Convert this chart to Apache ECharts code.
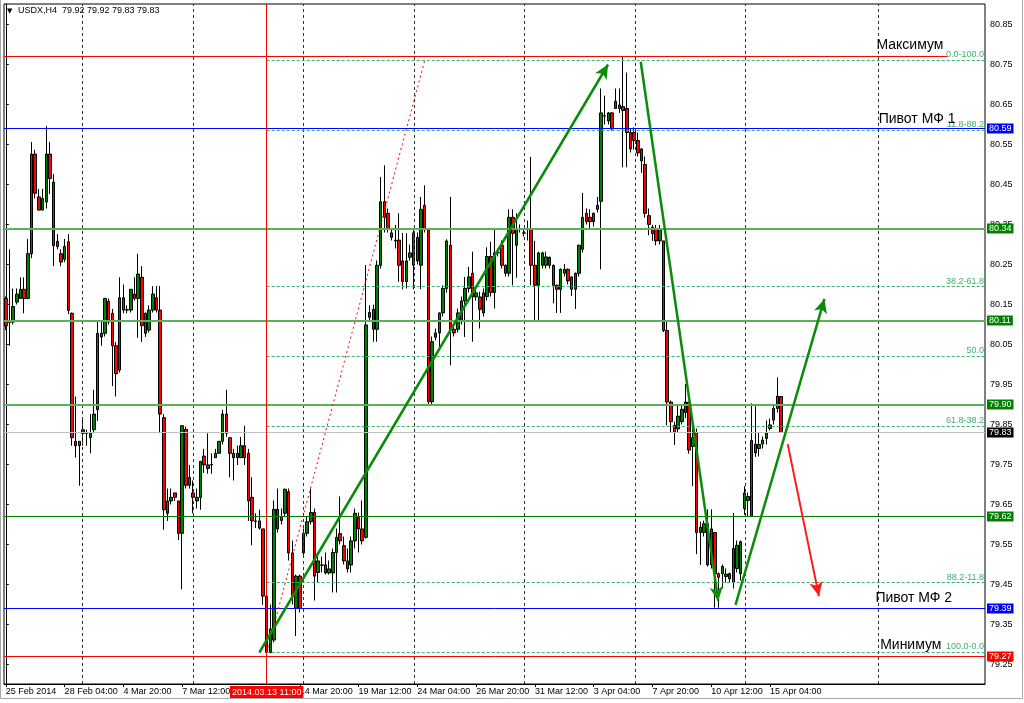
<!DOCTYPE html>
<html><head><meta charset="utf-8">
<script src="https://cdn.jsdelivr.net/npm/echarts@6/dist/echarts.min.js"></script>
<style>html,body{margin:0;padding:0;background:#fff}#c{width:1024px;height:703px}</style>
</head><body><div id="c"></div>
<script>
// ---- data: H4 candles [open, close, low, high]
const candles = [
[80.165,80.097,80.086,80.170],[80.105,80.110,80.047,80.288],[80.106,80.145,80.100,80.190],[80.156,80.176,80.150,80.190],
[80.165,80.188,80.165,80.218],[80.188,80.165,80.128,80.218],[80.165,80.277,80.165,80.314],[80.277,80.526,80.266,80.556],
[80.526,80.428,80.415,80.537],[80.419,80.386,80.386,80.439],[80.386,80.415,80.386,80.439],[80.406,80.526,80.390,80.596],
[80.526,80.465,80.426,80.556],[80.456,80.297,80.246,80.476],[80.308,80.295,80.288,80.326],[80.277,80.256,80.246,80.288],
[80.263,80.295,80.256,80.314],[80.307,80.135,80.126,80.326],[80.128,79.817,79.797,80.130],[79.808,79.797,79.767,79.920],
[79.808,79.797,79.697,79.808],[79.837,79.828,79.797,79.867],[79.828,79.829,79.797,79.837],[79.817,79.828,79.778,79.876],
[79.837,79.876,79.828,79.937],[79.887,80.078,79.859,80.108],[80.078,80.069,80.047,80.108],[80.078,80.165,80.070,80.167],
[80.158,80.106,80.100,80.165],[80.128,80.047,79.946,80.139],[80.047,79.977,79.920,80.056],[79.986,80.167,79.980,80.218],
[80.167,80.136,80.128,80.200],[80.136,80.137,80.128,80.148],[80.136,80.188,80.130,80.188],[80.176,80.165,80.160,80.218],
[80.165,80.226,80.067,80.277],[80.218,80.097,80.056,80.246],[80.128,80.078,80.069,80.130],[80.086,80.136,80.080,80.148],
[80.136,80.176,80.130,80.196],[80.167,80.136,80.130,80.196],[80.136,79.876,79.828,80.196],[79.867,79.637,79.587,79.876],
[79.628,79.659,79.609,79.690],[79.659,79.668,79.650,79.690],[79.679,79.668,79.659,79.679],[79.659,79.578,79.561,79.659],
[79.578,79.847,79.438,79.847],[79.838,79.698,79.690,79.845],[79.698,79.718,79.690,79.749],[79.679,79.668,79.628,79.710],
[79.659,79.668,79.640,79.690],[79.668,79.758,79.637,79.758],[79.771,79.749,79.729,79.789],[79.740,79.749,79.727,79.828],
[79.749,79.750,79.727,79.778],[79.767,79.778,79.767,79.789],[79.778,79.808,79.778,79.808],[79.808,79.876,79.800,79.887],
[79.876,79.828,79.819,79.937],[79.817,79.778,79.718,79.817],[79.778,79.767,79.710,79.789],[79.778,79.767,79.749,79.797],
[79.767,79.797,79.767,79.819],[79.797,79.767,79.749,79.847],[79.778,79.659,79.609,79.789],[79.668,79.609,79.548,79.718],
[79.609,79.608,79.591,79.628],[79.609,79.591,79.587,79.637],[79.589,79.421,79.399,79.589],[79.421,79.280,79.272,79.440],
[79.280,79.339,79.278,79.400],[79.311,79.638,79.305,79.660],[79.638,79.589,79.580,79.690],[79.610,79.620,79.600,79.640],
[79.628,79.688,79.620,79.690],[79.682,79.529,79.510,79.690],[79.529,79.423,79.400,79.560],[79.390,79.471,79.321,79.475],
[79.471,79.390,79.380,79.475],[79.529,79.578,79.520,79.590],[79.578,79.607,79.570,79.620],[79.607,79.630,79.600,79.690],
[79.630,79.471,79.410,79.640],[79.480,79.509,79.455,79.530],[79.499,79.498,79.480,79.520],[79.499,79.479,79.475,79.530],
[79.479,79.489,79.475,79.510],[79.479,79.530,79.430,79.540],[79.530,79.568,79.430,79.590],[79.577,79.559,79.550,79.670],
[79.547,79.509,79.500,79.570],[79.509,79.489,79.480,79.540],[79.499,79.559,79.480,79.570],[79.559,79.628,79.540,79.640],
[79.618,79.589,79.530,79.630],[79.589,79.559,79.550,79.660],[79.568,80.099,79.565,80.249],[80.118,80.130,80.110,80.148],
[80.138,80.088,80.057,80.150],[80.088,80.248,80.057,80.260],[80.248,80.407,80.240,80.469],[80.407,80.368,80.330,80.498],
[80.378,80.338,80.330,80.390],[80.329,80.318,80.310,80.340],[80.311,80.309,80.290,80.349],[80.311,80.248,80.207,80.378],
[80.259,80.207,80.188,80.329],[80.207,80.259,80.190,80.328],[80.268,80.279,80.260,80.300],[80.248,80.329,80.188,80.338],
[80.318,80.259,80.250,80.330],[80.248,80.388,80.188,80.419],[80.398,80.338,80.330,80.448],[80.338,79.907,79.899,80.340],
[79.907,80.057,79.900,80.070],[80.068,80.079,80.060,80.090],[80.079,80.129,80.040,80.130],[80.129,80.190,80.120,80.198],
[80.190,80.309,80.180,80.313],[80.298,80.088,79.998,80.419],[80.088,80.079,80.070,80.100],[80.088,80.129,80.080,80.140],
[80.107,80.159,80.100,80.170],[80.159,80.190,80.069,80.219],[80.190,80.219,80.180,80.244],[80.228,80.169,80.057,80.282],
[80.169,80.179,80.160,80.190],[80.169,80.138,80.090,80.182],[80.129,80.179,80.120,80.190],[80.170,80.270,80.160,80.293],
[80.270,80.180,80.170,80.307],[80.180,80.279,80.140,80.340],[80.279,80.280,80.270,80.290],[80.298,80.248,80.240,80.310],
[80.248,80.228,80.220,80.250],[80.228,80.368,80.220,80.388],[80.368,80.328,80.198,80.388],[80.298,80.338,80.217,80.378],
[80.338,80.339,80.330,80.350],[80.328,80.329,80.320,80.340],[80.340,80.338,80.310,80.360],[80.338,80.248,80.198,80.519],
[80.248,80.198,80.110,80.309],[80.198,80.279,80.107,80.282],[80.248,80.279,80.240,80.282],[80.248,80.269,80.240,80.282],
[80.268,80.248,80.240,80.270],[80.248,80.198,80.153,80.250],[80.198,80.188,80.129,80.200],[80.188,80.238,80.129,80.240],
[80.228,80.238,80.220,80.251],[80.238,80.209,80.200,80.240],[80.219,80.188,80.171,80.220],[80.188,80.228,80.139,80.230],
[80.228,80.298,80.220,80.300],[80.288,80.368,80.280,80.429],[80.378,80.357,80.350,80.390],[80.368,80.357,80.340,80.388],
[80.357,80.378,80.345,80.380],[80.388,80.398,80.380,80.419],[80.408,80.629,80.238,80.690],[80.622,80.621,80.600,80.672],
[80.609,80.629,80.600,80.631],[80.629,80.589,80.585,80.631],[80.640,80.658,80.640,80.690],[80.649,80.640,80.629,80.690],
[80.635,80.645,80.493,80.770],[80.640,80.580,80.493,80.730],[80.580,80.539,80.530,80.590],[80.580,80.560,80.537,80.593],
[80.560,80.529,80.520,80.580],[80.539,80.509,80.479,80.540],[80.500,80.378,80.367,80.520],[80.372,80.350,80.323,80.390],
[80.343,80.327,80.309,80.349],[80.340,80.309,80.298,80.349],[80.309,80.340,80.300,80.349],[80.309,80.085,80.081,80.309],
[80.085,79.906,79.848,80.110],[79.906,79.857,79.830,79.910],[79.848,79.830,79.799,79.857],[79.839,79.871,79.830,79.898],
[79.857,79.888,79.850,79.900],[79.880,79.906,79.866,79.951],[79.906,79.786,79.777,79.906],[79.795,79.817,79.696,79.848],
[79.830,79.580,79.526,79.840],[79.580,79.593,79.499,79.607],[79.580,79.602,79.570,79.610],[79.602,79.499,79.495,79.638],
[79.589,79.499,79.490,79.638],[79.580,79.477,79.392,79.580],[79.477,79.468,79.392,79.480],[79.477,79.495,79.440,79.500],
[79.470,79.476,79.455,79.490],[79.477,79.464,79.455,79.480],[79.455,79.540,79.440,79.629],[79.490,79.548,79.480,79.560],
[79.477,79.557,79.460,79.560],[79.640,79.679,79.624,79.696],[79.660,79.670,79.620,79.680],[79.620,79.810,79.620,79.903],
[79.801,79.779,79.769,79.900],[79.790,79.800,79.770,79.830],[79.801,79.811,79.790,79.820],[79.815,79.829,79.800,79.860],
[79.840,79.849,79.835,79.865],[79.861,79.890,79.850,79.900],[79.890,79.921,79.880,79.968],[79.920,79.830,79.830,79.920]
];
const SLOTS = 267;                 // bar slots visible on the chart (incl. empty future area)
const LABEL_STEP = 16;             // one time label every 16 bars
const xTickLabels = ['25 Feb 2014','28 Feb 04:00','4 Mar 20:00','7 Mar 12:00','','14 Mar 20:00','19 Mar 12:00',
  '24 Mar 04:00','26 Mar 20:00','31 Mar 12:00','3 Apr 04:00','7 Apr 20:00','10 Apr 12:00','15 Apr 04:00'];
const yTicks = [79.25,79.35,79.45,79.55,79.65,79.75,79.85,79.95,80.05,80.15,80.25,80.35,80.45,80.55,80.65,80.75,80.85];
const yMin = 79.20125, yMax = 80.90125;

// horizontal levels (levelEndBars: bar where a level line stops, null = runs to the right edge)
const levelPrices  = [80.77, 80.59, 80.34, 80.11, 79.90, 79.83, 79.62, 79.39, 79.27];
const levelKinds   = ['ext','pivot','zoneA','zoneA','zoneA','last','zoneB','pivot','ext'];
const levelEndBars = [256.2, null, null, null, null, null, null, null, null];

// fibonacci retracement
const fibHigh = 80.76, fibLow = 79.28;
const fibRatios = [0, 0.118, 0.382, 0.5, 0.618, 0.882, 1];
const fibNames  = ['0.0-100.0','11.8-88.2','38.2-61.8','50.0','61.8-38.2','88.2-11.8','100.0-0.0'];
const fibAnchorBars = [71, 114];   // bar of the low, bar of the high

// arrows: [bar, price] -> [bar, price]
const greenArrows = [
  [[69.0, 79.28], [163.9, 80.75]],
  [[172.8, 80.757], [193.9, 79.409]],
  [[198.6, 79.399], [222.8, 80.164]]
];
const redArrows = [ [[212.8, 79.801], [221.3, 79.421]] ];

// text notes: [bar, price, text]
const notes = [
  [237.1, 80.779, 'Максимум'],
  [237.7, 80.594, 'Пивот МФ 1'],
  [236.8, 79.396, 'Пивот МФ 2'],
  [238.1, 79.279, 'Минимум']
];
const markerBar = 71, markerLabel = '2014.03.13 11:00';
const gridBars = [20.73, 50.94, 80.88, 111.1, 141.0, 171.2, 201.2, 237.4];
const headerText = 'USDX,H4  79.92 79.92 79.83 79.83';

// ---- styles
const FONT = 'Liberation Sans, Arial, sans-serif';
const levelStyle = {
  ext:   {line:'#ff0000', width:1, tag:'#ff0000', tagText:'#fff'},
  pivot: {line:'#0000ff', width:1, tag:'#0000ff', tagText:'#fff'},
  zoneA: {line:'#5cb05c', width:2, tag:'#008000', tagText:'#fff'},
  zoneB: {line:'#008000', width:1, tag:'#008000', tagText:'#fff'},
  last:  {line:'#c0c0c0', width:1, tag:'#000000', tagText:'#fff'}
};
const FIB_COLOR = '#3cb371', FIB_TEXT = '#3cb371';
const ARROW_GREEN = '#0a8c0a', ARROW_RED = '#ff1a1a';

const chart = echarts.init(document.getElementById('c'));
const cats = Array.from({length: SLOTS}, (_, i) => String(i));
const showTick = idx => idx % LABEL_STEP === 0 && (idx / LABEL_STEP) < xTickLabels.length && xTickLabels[idx / LABEL_STEP] !== '';

const under = gridBars.map(v => ({xAxis: v, lineStyle:{color:'#333', type:[3,3], width:1}}));

const over = [];
levelPrices.forEach((p, k) => {
  const s = levelStyle[levelKinds[k]];
  const tag = {show:true, position:'end', formatter:p.toFixed(2), color:s.tagText, backgroundColor:s.tag,
      padding:[1,2,0,2], fontSize:9, fontFamily:FONT, distance:2};
  if (levelEndBars[k] == null) {
    over.push({yAxis: p, lineStyle:{color:s.line, width:s.width, type:'solid'}, label:tag});
  } else {
    over.push([{coord:[-0.5, p], lineStyle:{color:s.line, width:s.width, type:'solid'}}, {coord:[levelEndBars[k], p]}]);
    over.push({yAxis: p, lineStyle:{color:s.line, width:0, opacity:0}, label:tag});
  }
});
fibRatios.forEach((r, k) => {
  const p = fibHigh - r * (fibHigh - fibLow);
  over.push([{coord:[fibAnchorBars[0], p], lineStyle:{color:FIB_COLOR, type:[3,2], width:1},
      label:{show:true, position:'insideEndTop', formatter:fibNames[k], color:FIB_TEXT, fontSize:9, fontFamily:FONT, distance:[1,1]}},
    {coord:[SLOTS - 0.5, p]}]);
});
over.push([{coord:[fibAnchorBars[0], fibLow], lineStyle:{color:'#ff0000', type:[2,3], width:1}}, {coord:[fibAnchorBars[1], fibHigh]}]);
over.push({xAxis: markerBar, lineStyle:{color:'#ff0000', width:1, type:'solid'},
  label:{show:true, position:'start', formatter:markerLabel, color:'#fff', backgroundColor:'#ff0000', padding:[2,2,1,2], fontSize:9, fontFamily:FONT, distance:2}});
greenArrows.forEach(a => over.push([{coord:a[0], lineStyle:{color:ARROW_GREEN, width:2.5, type:'solid'}}, {coord:a[1], symbol:'arrow', symbolSize:[10,14]}]));
redArrows.forEach(a => over.push([{coord:a[0], lineStyle:{color:ARROW_RED, width:2, type:'solid'}}, {coord:a[1], symbol:'arrow', symbolSize:[10,14]}]));

chart.setOption({
  animation:false,
  textStyle:{fontFamily:FONT},
  grid:{left:4, top:4, right:39, bottom:19, show:true, borderColor:'#000', borderWidth:1, backgroundColor:'#fff'},
  xAxis:[{
    type:'category', data:cats, boundaryGap:true,
    axisLine:{show:true, lineStyle:{color:'#000'}},
    axisTick:{show:true, alignWithLabel:true, interval:showTick, length:3, lineStyle:{color:'#000'}},
    axisLabel:{interval:showTick, formatter:(v, idx) => xTickLabels[idx / LABEL_STEP] || '', align:'left', margin:3,
      color:'#000', fontSize:9, fontFamily:FONT},
    splitLine:{show:false}
  },{
    type:'value', min:-0.5, max:SLOTS - 0.5, show:false
  }],
  yAxis:[{
    type:'value', position:'right', min:yMin, max:yMax, scale:true,
    axisLine:{show:true, lineStyle:{color:'#000'}},
    axisTick:{show:true, customValues:yTicks, length:3, lineStyle:{color:'#000'}},
    axisLabel:{customValues:yTicks, formatter:v => v.toFixed(2), margin:5, color:'#000', fontSize:9, fontFamily:FONT},
    splitLine:{show:false}
  }],
  graphic:[
    {type:'text', left:7, top:8, style:{text:'▼', fontSize:7, fill:'#000', fontFamily:'DejaVu Sans'}},
    {type:'text', left:18, top:6, style:{text:headerText, fontSize:9, fill:'#000', fontFamily:FONT}},
    {type:'rect', shape:{x:0.5, y:-1, width:1022, height:699.5}, style:{fill:'none', stroke:'#a8a8a8', lineWidth:1}, silent:true, z:-1}
  ],
  series:[
    {type:'line', xAxisIndex:1, yAxisIndex:0, data:[], z:1, silent:true,
      markLine:{symbol:['none','none'], silent:true, animation:false, label:{show:false}, data:under}},
    {type:'candlestick', xAxisIndex:0, yAxisIndex:0, data:candles, barWidth:3, z:3, silent:true,
      itemStyle:{color:'#008000', color0:'#ff0000', borderColor:'#000', borderColor0:'#000', borderWidth:1}},
    {type:'line', xAxisIndex:1, yAxisIndex:0, data:[], z:5, silent:true,
      markLine:{symbol:['none','none'], silent:true, animation:false, label:{show:false}, data:over},
      markPoint:{symbol:'rect', symbolSize:1, silent:true, animation:false, itemStyle:{color:'rgba(0,0,0,0)'},
        data:notes.map(n => ({coord:[n[0], n[1]], label:{show:true, formatter:n[2], position:[0,0], align:'left',
          verticalAlign:'bottom', color:'#000', fontSize:14, fontFamily:FONT}}))}}
  ]
});
</script></body></html>
